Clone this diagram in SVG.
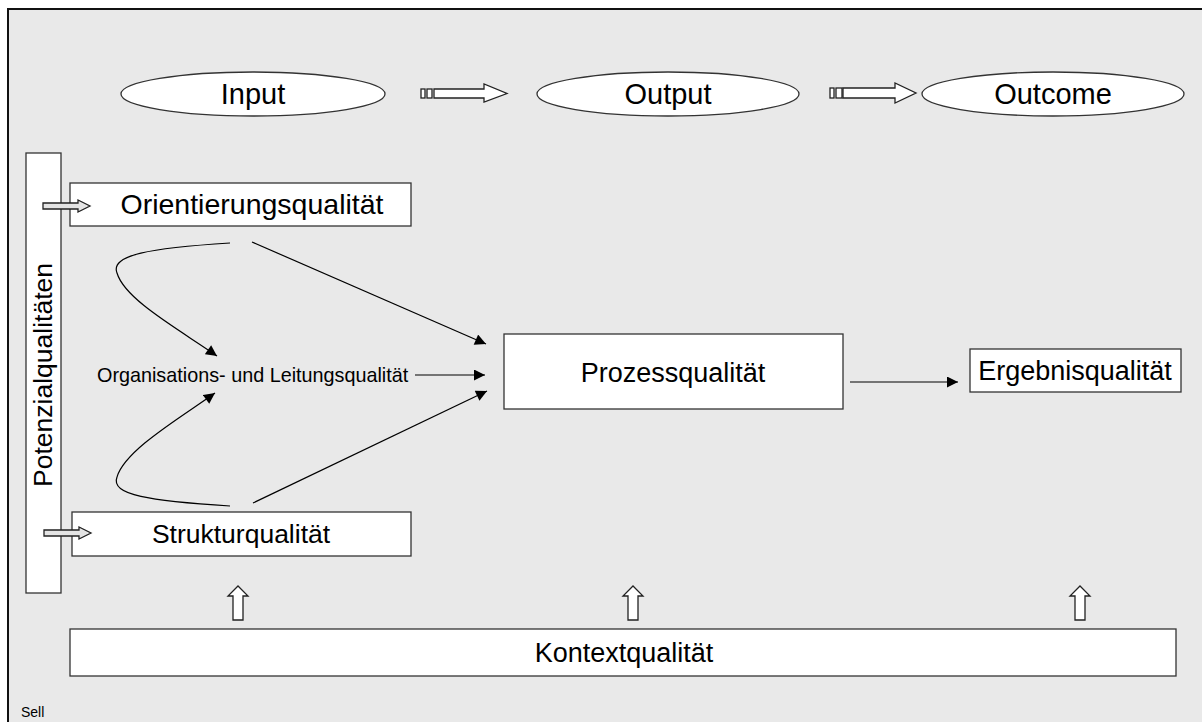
<svg xmlns="http://www.w3.org/2000/svg" width="1202" height="722" viewBox="0 0 1202 722">
<defs>
<style>
text{font-family:"Liberation Sans",Arial,sans-serif;fill:#000}
.box{fill:#fff;stroke:#333;stroke-width:1.3}
.ln{fill:none;stroke:#000;stroke-width:1.2}
.ha{fill:#fff;stroke:#222;stroke-width:1.3}
.ga{fill:#e4e4e4;stroke:#222;stroke-width:1.3}
</style>
<marker id="ah" viewBox="0 0 10 10" refX="10" refY="5" markerWidth="12" markerHeight="11" markerUnits="userSpaceOnUse" orient="auto">
<path d="M0,0 L10,5 L0,10 Z" fill="#000"/>
</marker>
</defs>
<rect x="0" y="0" width="1202" height="722" fill="#fff"/>
<rect x="8" y="9" width="1200" height="720" fill="#e9e9e9" stroke="#111" stroke-width="2"/>

<g id="input">
<ellipse cx="253" cy="94" rx="132" ry="22" class="box"/>
<text x="253" y="104" font-size="29" text-anchor="middle">Input</text>
</g>
<g id="output">
<ellipse cx="668" cy="94" rx="131" ry="22" class="box"/>
<text x="668" y="104" font-size="29" text-anchor="middle">Output</text>
</g>
<g id="outcome">
<ellipse cx="1053" cy="94" rx="131" ry="22" class="box"/>
<text x="1053" y="104" font-size="29" text-anchor="middle">Outcome</text>
</g>

<g id="potenzial">
<rect x="26" y="153" width="35" height="440" class="box"/>
<text transform="translate(52,375) rotate(-90)" font-size="26.5" text-anchor="middle">Potenzialqualitäten</text>
</g>
<g id="orientierung">
<rect x="70" y="183" width="341" height="43" class="box"/>
<text x="252" y="214" font-size="28.5" text-anchor="middle">Orientierungsqualität</text>
</g>
<g id="struktur">
<rect x="72" y="512" width="339" height="44" class="box"/>
<text x="241" y="543" font-size="26.5" text-anchor="middle">Strukturqualität</text>
</g>
<g id="organisation">
<text x="97" y="382" font-size="19.8">Organisations- und Leitungsqualität</text>
</g>
<g id="prozess">
<rect x="504" y="334" width="339" height="75" class="box"/>
<text x="673" y="382" font-size="27" text-anchor="middle">Prozessqualität</text>
</g>
<g id="ergebnis">
<rect x="970" y="349" width="211" height="43" class="box"/>
<text x="1075" y="380" font-size="27" text-anchor="middle">Ergebnisqualität</text>
</g>
<g id="kontext">
<rect x="70" y="629" width="1106" height="47" class="box"/>
<text x="624" y="662" font-size="27" text-anchor="middle">Kontextqualität</text>
</g>
<g id="sell">
<text x="21" y="717" font-size="14">Sell</text>
</g>

<g id="connectors">
<rect x="421" y="89" width="4" height="9" class="ha"/>
<rect x="427" y="89" width="5" height="9" class="ha"/>
<path d="M434,89 L484,89 L484,84 L507,93.5 L484,102 L484,98 L434,98 Z" class="ha"/>
<rect x="830" y="88" width="4" height="10" class="ha"/>
<rect x="836" y="88" width="6" height="10" class="ha"/>
<path d="M843,88 L895,88 L895,83 L916,93 L895,103 L895,98 L843,98 Z" class="ha"/>
<path d="M43,203 L78,203 L78,200 L90,206 L78,212 L78,209 L43,209 Z" class="ga"/>
<path d="M44,530 L79,530 L79,527 L91,533 L79,539 L79,536 L44,536 Z" class="ga"/>
<path d="M233,620 L233,596 L228,596 L238,586 L248,596 L243,596 L243,620 Z" class="ha"/>
<path d="M628,620 L628,596 L623,596 L633,586 L643,596 L638,596 L638,620 Z" class="ha"/>
<path d="M1075,620 L1075,596 L1070,596 L1080,586 L1090,596 L1085,596 L1085,620 Z" class="ha"/>
<path d="M230,243 C150,248 110,255 117,273 C125,300 180,330 217,356" class="ln" marker-end="url(#ah)"/>
<path d="M230,506 C150,501 110,495 117,477 C125,450 180,418 215,393" class="ln" marker-end="url(#ah)"/>
<path d="M252,242 L486,344" class="ln" marker-end="url(#ah)"/>
<path d="M253,503 L487,391" class="ln" marker-end="url(#ah)"/>
<path d="M415,375 L485,375" class="ln" marker-end="url(#ah)"/>
<path d="M850,382 L958,382" class="ln" marker-end="url(#ah)"/>
</g>
</svg>
